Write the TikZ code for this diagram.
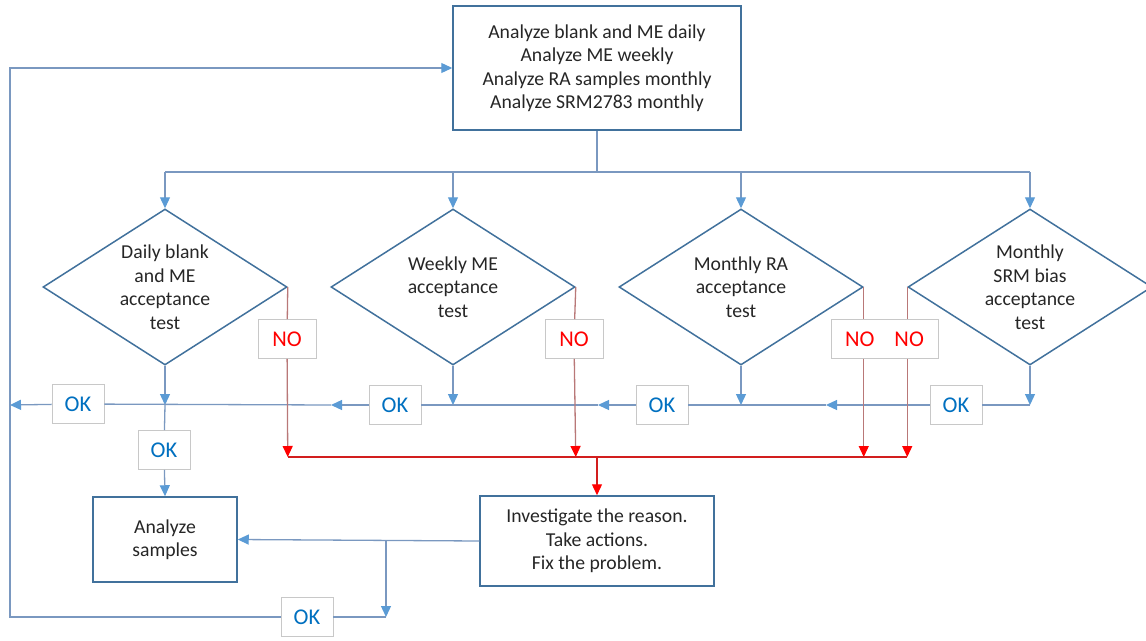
\documentclass[tikz,border=0pt]{standalone}
\usepackage{fontspec}
\setmainfont{Carlito}
\usetikzlibrary{arrows.meta,shapes.geometric}
\definecolor{boxc}{HTML}{41719C}
\definecolor{linec}{RGB}{122,152,192}
\definecolor{tipc}{HTML}{5B9BD5}
\definecolor{okc}{HTML}{0070C0}
\definecolor{labc}{RGB}{200,200,200}
\definecolor{redl}{RGB}{185,120,120}
\definecolor{redh}{RGB}{210,30,30}
\begin{document}
\begin{tikzpicture}[x=1pt,y=-1pt,
  mainf/.style={font=\fontsize{19.7}{23.5}\selectfont},
  box/.style={draw=boxc, line width=1.5pt, fill=white, align=center, mainf, inner sep=0pt, text=black!85},
  dec/.style={draw=boxc, line width=1.5pt, shape=diamond, aspect=1.564, minimum width=244pt, minimum height=156pt, inner sep=0pt, align=center, mainf, text=black!85},
  lab/.style={draw=labc, line width=0.8pt, fill=white, inner sep=0pt, minimum height=39pt, font=\fontsize{22.5}{24}\selectfont},
  oklab/.style={lab, minimum width=52pt, text=okc},
  nolab/.style={lab, minimum width=58pt, text=red},
  bline/.style={draw=linec, line width=1.3pt},
  barrow/.style={bline, -{Triangle[length=11pt,width=10pt,color=tipc]}},
  rline/.style={draw=redl, line width=1.3pt, -{Triangle[length=11pt,width=10pt,color=red]}},
  hline/.style={draw=redh, line width=1.3pt},
  harrow/.style={hline, -{Triangle[length=11pt,width=10pt,color=red]}}
]
\useasboundingbox (0,0) rectangle (1146,640);

% main nodes
\node[box, minimum width=288pt, minimum height=124pt] (top) at (597,68)
  {Analyze blank and ME daily\\Analyze ME weekly\\Analyze RA samples monthly\\Analyze SRM2783 monthly};
\node[dec] (d1) at (165,287) {Daily blank\\and ME\\acceptance\\test};
\node[dec] (d2) at (453,287) {Weekly ME\\acceptance\\test};
\node[dec] (d3) at (741,287) {Monthly RA\\acceptance\\test};
\node[dec] (d4) at (1030,287) {Monthly\\SRM bias\\acceptance\\test};
\node[box, minimum width=144pt, minimum height=85pt] (samp) at (165,539.5) {Analyze\\samples};
\node[box, minimum width=234pt, minimum height=90pt] (inv) at (597,541)
  {Investigate the reason.\\Take actions.\\Fix the problem.};

% label nodes
\node[oklab] (ok1) at (78,404) {OK};
\node[oklab] (ok2) at (395,405) {OK};
\node[oklab] (ok3) at (662,405) {OK};
\node[oklab] (ok4) at (956,405) {OK};
\node[oklab] (ok6) at (164,450) {OK};
\node[oklab] (ok5) at (307,617) {OK};
\node[nolab] (no1) at (287,339) {NO};
\node[nolab] (no2) at (574,339) {NO};
\node[lab, minimum width=107pt, text=red] (no34) at (884.5,339) {NO\hspace{20pt}NO};

% coordinates
\coordinate (bus) at (597,172);
\coordinate (okline) at (0,405);
\coordinate (redline) at (0,457);
\coordinate (a4) at (826,405);
\coordinate (a3) at (598,405);
\coordinate (a2) at (331,405);
\coordinate (leftok) at (10,405);
\coordinate (br) at (386,541);
\coordinate (loopB) at (386,617);
\coordinate (loopBL) at (10,617);
\coordinate (loopTL) at (10,68);
\coordinate (redmid) at (597,457);

% top distribution
\draw[bline] (top.south) -- (bus);
\draw[bline] (d1.north |- bus) -- (d4.north |- bus);
\foreach \d in {d1,d2,d3,d4}
  \draw[barrow] (\d.north |- bus) -- (\d.north);

% OK branches
\foreach \d in {d1,d2,d3,d4}
  \draw[barrow] (\d.south) -- (\d.south |- okline);
\draw[barrow] (d4.south |- okline) -- (ok4) -- (a4);
\draw[barrow] (a4) -- (ok3) -- (a3);
\draw[barrow] (a3) -- (ok2) -- (a2);
\draw[barrow] (a2) -- (ok1) -- (leftok);
\draw[barrow] (d1.south |- okline) -- (ok6) -- (samp.north);

% NO branches
\draw[rline] (d1.east) -- (no1) -- (d1.east |- redline);
\draw[rline] (d2.east) -- (no2) -- (d2.east |- redline);
\draw[draw=redl, line width=1.3pt] (d3.east) -- (d3.east |- no34.north);
\draw[rline] (d3.east |- no34.south) -- (d3.east |- redline);
\draw[draw=redl, line width=1.3pt] (d4.west) -- (d4.west |- no34.north);
\draw[rline] (d4.west |- no34.south) -- (d4.west |- redline);
\draw[hline] (d1.east |- redline) -- (d4.west |- redline);
\draw[harrow] (redmid) -- (inv.north);

% investigate outputs
\draw[barrow] (inv.west) -- (samp.east);
\draw[barrow] (br) -- (loopB);
\draw[barrow] (loopB) -- (ok5) -- (loopBL) -- (loopTL) -- (top.west);
\end{tikzpicture}
\end{document}
